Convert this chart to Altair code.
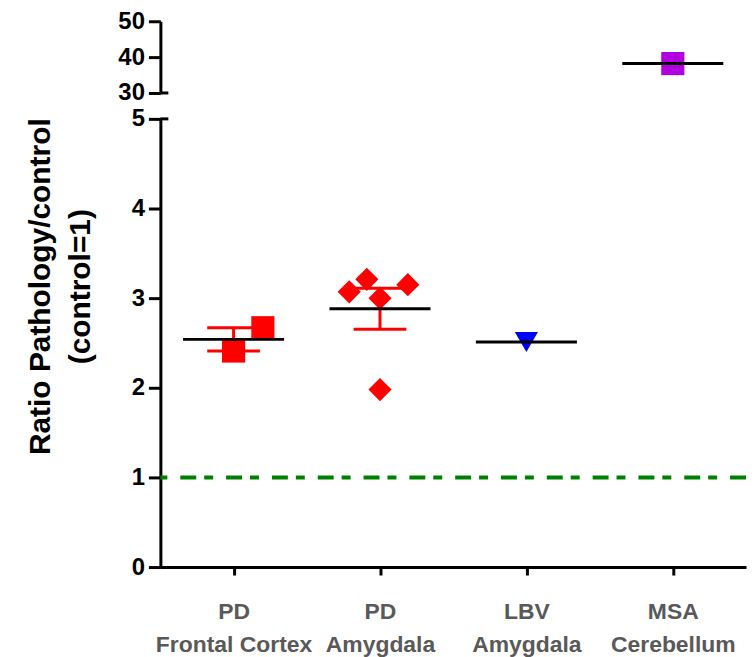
import json
import altair as alt
import pandas as pd
import numpy as np

# ---------------- data ----------------
categories = ["PD|Frontal Cortex", "PD|Amygdala", "LBV|Amygdala", "MSA|Cerebellum"]
group_colors = ["#FF0000", "#FF0000", "#0000FF", "#B000E0"]
group_shapes = ["square", "diamond", "triangle-down", "square"]

fc_values = [2.67, 2.41]
fc_jitter = [0.20, 0.0]
amy_values = [3.07, 3.21, 3.00, 3.15, 1.98]
amy_jitter = [-0.21, -0.09, 0.0, 0.19, 0.0]
lbv_values = [2.51]
lbv_jitter = [0.0]
msa_values = [38.2]
msa_jitter = [0.0]

control_level = 1
y_lower_ticks = [0, 1, 2, 3, 4, 5]
y_upper_ticks = [30, 40, 50]

series = [(fc_values, fc_jitter), (amy_values, amy_jitter),
          (lbv_values, lbv_jitter), (msa_values, msa_jitter)]

rows, summ = [], []
for i, (vals, jit) in enumerate(series):
    for v, j in zip(vals, jit):
        rows.append({"group": categories[i], "idx": i, "value": v, "xpos": i + j})
    arr = np.array(vals)
    mean = arr.mean()
    sem = arr.std(ddof=1) / np.sqrt(len(arr)) if len(arr) > 1 else np.nan
    summ.append({"group": categories[i], "idx": i, "mean": mean,
                 "lo": mean - sem if len(arr) > 1 else None,
                 "hi": mean + sem if len(arr) > 1 else None,
                 "m0": i - 0.345, "m1": i + 0.345,
                 "c0": i - 0.18, "c1": i + 0.18})
pts = pd.DataFrame(rows)
sm = pd.DataFrame(summ)

W = 588
H_TOP = 72
H_BOT = 450

xscale = alt.Scale(domain=[-0.5, 3.5], nice=False, zero=False)
color_scale = alt.Scale(domain=categories, range=group_colors)
shape_scale = alt.Scale(domain=categories, range=group_shapes)

label_expr = "split(" + json.dumps(categories) + "[datum.value], '|')"


def panel(lo, hi, ticks, height, show_x, title):
    ysc = alt.Scale(domain=[lo, hi], nice=False, zero=False)
    p = pts[(pts.value >= lo) & (pts.value <= hi)]
    s = sm[(sm["mean"] >= lo) & (sm["mean"] <= hi)]
    se = s.dropna(subset=["lo"])

    if show_x:
        xaxis = alt.Axis(values=[0, 1, 2, 3], labelExpr=label_expr, title=None,
                         labelColor="#595959", labelFontSize=23, labelLineHeight=33,
                         labelPadding=26, tickSize=8, labelFlush=False,
                         labelOverlap=False)
    else:
        xaxis = None
    yaxis_kw = dict(values=ticks, tickSize=12, labelPadding=4, labelFontSize=24,
                    format="d", labelOverlap=False, tickCount=len(ticks))
    if title:
        yaxis_kw.update(title=["Ratio Pathology/control", "(control=1)"],
                        titleFontSize=30, titleLineHeight=40, titleFont="Liberation Sans",
                        titleFontWeight="bold", titleAngle=270, titleBaseline="middle",
                        titleAlign="center", titleX=-120, titleY=168, titleColor="black")
    else:
        yaxis_kw.update(title=None)
    yaxis = alt.Axis(**yaxis_kw)

    def X(f):
        return alt.X(f, scale=xscale, axis=xaxis)

    def Y(f):
        return alt.Y(f, scale=ysc, axis=yaxis)

    col = alt.Color("group:N", scale=color_scale, legend=None)

    base_pts = alt.Chart(p).mark_point(filled=True, opacity=1, size=540).encode(
        x=X("xpos:Q"), y=Y("value:Q"), color=col,
        shape=alt.Shape("group:N", scale=shape_scale, legend=None),
    )
    layers = []
    if len(se):
        vbar = alt.Chart(se).mark_rule(strokeWidth=3).encode(
            x=X("idx:Q"), y=Y("lo:Q"), y2="hi:Q", color=col)
        caplo = alt.Chart(se).mark_rule(strokeWidth=3).encode(
            x=X("c0:Q"), x2="c1:Q", y=Y("lo:Q"), color=col)
        caphi = alt.Chart(se).mark_rule(strokeWidth=3).encode(
            x=X("c0:Q"), x2="c1:Q", y=Y("hi:Q"), color=col)
        layers += [vbar, caplo, caphi]
    layers.append(base_pts)
    meanline = alt.Chart(s).mark_rule(strokeWidth=3, color="black").encode(
        x=X("m0:Q"), x2="m1:Q", y=Y("mean:Q"))
    layers.append(meanline)
    if show_x:
        ctrl = alt.Chart(pd.DataFrame({"c": [control_level]})).mark_rule(
            color="#008000", strokeWidth=4, strokeDash=[16, 13, 9, 8]).encode(
            y=Y("c:Q"))
        layers.insert(0, ctrl)
        cap_val = hi
    else:
        cap_val = lo
    cap = alt.Chart(pd.DataFrame({"c": [cap_val]})).mark_rule(
        color="black", strokeWidth=3).encode(
        y=Y("c:Q"), x=alt.value(0), x2=alt.value(8))
    layers.append(cap)
    return alt.layer(*layers).properties(width=W, height=height)


top = panel(30, 50, y_upper_ticks, H_TOP, False, False)
bottom = panel(0, 5, y_lower_ticks, H_BOT, True, True)

chart = alt.vconcat(top, bottom, spacing=26, bounds="flush").resolve_scale(
    y="independent"
).properties(
    padding={"left": 18, "top": 0, "right": 0, "bottom": 0},
    background="white",
).configure_view(stroke=None).configure_axis(
    grid=False, domainColor="black", domainWidth=3, tickColor="black", tickWidth=3,
    labelFont="Liberation Sans", labelFontWeight="bold", labelColor="black",
)

chart.save("out.html", embed_options={"renderer": "svg", "actions": False})
